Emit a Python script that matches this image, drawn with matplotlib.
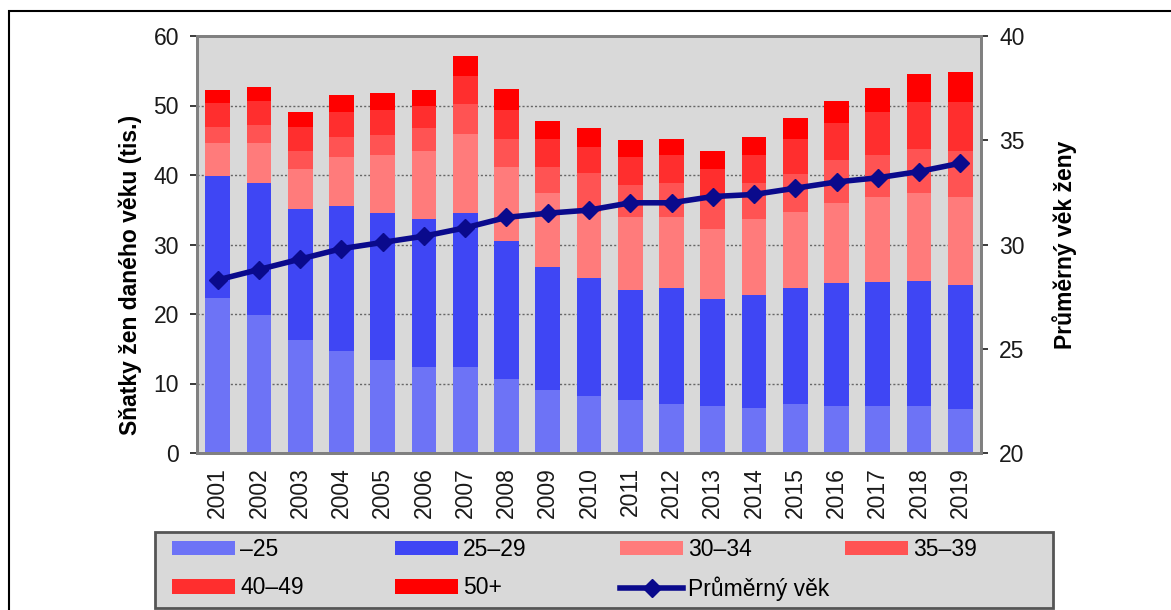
import numpy as np
import matplotlib.pyplot as plt
from matplotlib.patches import Rectangle

plt.rcParams['font.family'] = ['Liberation Sans', 'DejaVu Sans']

years = [str(y) for y in range(2001, 2020)]

# marriages of women by age group (thousands)
age_u25 = [22.3, 19.8, 16.3, 14.7, 13.4, 12.4, 12.4, 10.7, 9.1, 8.2,
           7.6, 7.1, 6.7, 6.5, 7.0, 6.7, 6.7, 6.7, 6.4]
age_25_29 = [17.5, 19.1, 18.8, 20.9, 21.1, 21.3, 22.2, 19.8, 17.6, 17.0,
             15.9, 16.7, 15.4, 16.3, 16.8, 17.7, 17.9, 18.1, 17.8]
age_30_34 = [4.8, 5.7, 5.8, 7.0, 8.4, 9.8, 11.3, 10.7, 10.7, 9.5,
             10.4, 10.1, 10.1, 10.8, 10.9, 11.5, 12.3, 12.6, 12.7]
age_35_39 = [2.3, 2.6, 2.6, 2.9, 2.9, 3.2, 4.3, 4.0, 3.8, 5.6,
             4.6, 4.9, 4.8, 5.2, 5.5, 6.2, 6.0, 6.4, 6.6]
age_40_49 = [3.5, 3.5, 3.4, 3.5, 3.5, 3.2, 4.0, 4.2, 4.0, 3.8,
             4.1, 4.1, 3.9, 4.1, 5.0, 5.4, 6.1, 6.7, 7.0]
age_50p = [1.9, 2.0, 2.1, 2.5, 2.5, 2.4, 2.9, 3.0, 2.6, 2.6,
           2.5, 2.3, 2.6, 2.6, 3.0, 3.2, 3.5, 4.0, 4.3]

# mean age of bride
mean_age = [28.3, 28.8, 29.3, 29.8, 30.1, 30.4, 30.8, 31.3, 31.5, 31.65,
            32.0, 32.0, 32.3, 32.4, 32.7, 33.0, 33.2, 33.5, 33.9]

series = [age_u25, age_25_29, age_30_34, age_35_39, age_40_49, age_50p]
labels = ['–25', '25–29', '30–34', '35–39', '40–49', '50+']
colors = ['#6d73f6', '#3f46f4', '#ff7b7b', '#ff5353', '#ff2e2e', '#ff0000']

W, H = 1171, 610
FS = 16.5

fig = plt.figure(figsize=(W / 100, H / 100), dpi=100)
ax = fig.add_axes([197 / W, 157 / H, 784 / W, 417 / H])
ax.set_facecolor('#d9d9d9')

x = np.arange(len(years))
bottom = np.zeros(len(years))
handles = []
for vals, lab, col in zip(series, labels, colors):
    b = ax.bar(x, vals, width=0.6, bottom=bottom, color=col, label=lab)
    handles.append(b)
    bottom += np.array(vals)

ax.set_xlim(-0.5, len(years) - 0.5)
ax.set_ylim(0, 60)
ax.set_yticks(range(0, 61, 10))
ax.set_xticks(x)
ax.set_xticklabels(years, rotation=90, fontsize=FS, color='#1a1a1a')
ax.tick_params(axis='y', labelsize=FS, colors='#1a1a1a', length=5, width=1.2, pad=8)
ax.tick_params(axis='x', length=0, pad=10)
ax.set_axisbelow(True)
ax.yaxis.grid(True, linestyle=(0, (1.5, 1.5)), color='#666666', linewidth=1.0)
ax.set_ylabel('Sňatky žen daného věku (tis.)', fontsize=FS, fontweight='bold')
ax.yaxis.set_label_coords(-0.070, 0.427)
for s in ax.spines.values():
    s.set_color('#808080')
    s.set_linewidth(2)

ax2 = ax.twinx()
line, = ax2.plot(x, mean_age, color='#0a0a8c', linewidth=4, marker='D',
                 markersize=9, label='Průměrný věk')
ax2.set_ylim(20, 40)
ax2.set_yticks(range(20, 41, 5))
ax2.tick_params(axis='y', labelsize=FS, colors='#1a1a1a', length=5, width=1.2, pad=8)
ax2.set_ylabel('Průměrný věk ženy', fontsize=FS, fontweight='bold', labelpad=20)
for s in ax2.spines.values():
    s.set_color('#808080')
    s.set_linewidth(2)

# legend box, then one small legend per column (Excel-like equal spacing)
fig.patches.append(Rectangle((155 / W, 2 / H), 898 / W, 76 / H,
                             facecolor='#d9d9d9', edgecolor='#555555', linewidth=2,
                             transform=fig.transFigure, figure=fig))

columns = [
    ([handles[0], handles[4]], [labels[0], labels[4]]),
    ([handles[1], handles[5]], [labels[1], labels[5]]),
    ([handles[2], line], [labels[2], 'Průměrný věk']),
    ([handles[3]], [labels[3]]),
]
col_x = [172, 395, 620, 845]
for (hs, ls), cx in zip(columns, col_x):
    fig.legend(hs, ls, loc='upper left', bbox_to_anchor=(cx / W, (H - 538) / H),
               fontsize=FS, frameon=False, handlelength=2.75, handleheight=0.6,
               handletextpad=0.22, borderpad=0, borderaxespad=0, labelspacing=0.67)

fig.patches.append(Rectangle((9 / W, -0.1), 1.1, 1.1 - 11 / H, fill=False,
                             edgecolor='black', linewidth=1.5,
                             transform=fig.transFigure, figure=fig))

fig.savefig('out.png', dpi=100)
plt.close(fig)
